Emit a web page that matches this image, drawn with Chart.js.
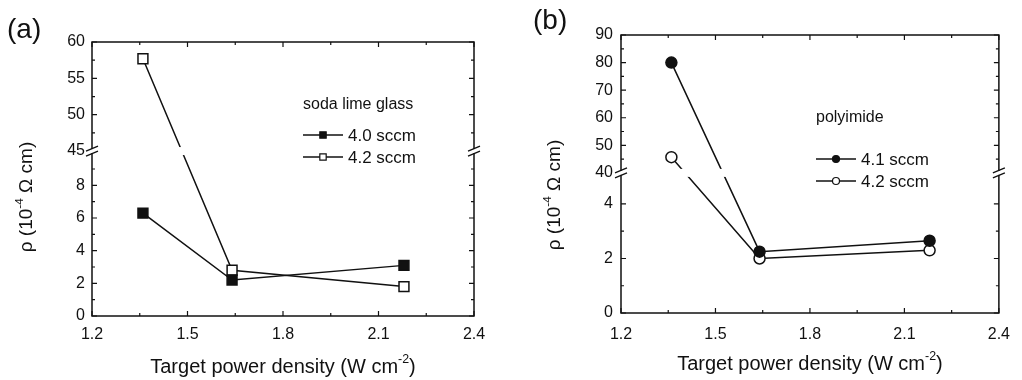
<!DOCTYPE html>
<html>
<head>
<meta charset="utf-8">
<script src="https://cdn.jsdelivr.net/npm/chart.js@4/dist/chart.umd.min.js"></script>
<style>
  html, body { margin: 0; padding: 0; background: #fff; }
  #wrap { position: relative; width: 1022px; height: 380px; }
  .panel { position: absolute; top: 0; width: 511px; height: 380px; }
</style>
</head>
<body>
<div id="wrap">
  <div class="panel" style="left:0"><canvas id="chartA" width="511" height="380"></canvas></div>
  <div class="panel" style="left:511px"><canvas id="chartB" width="511" height="380"></canvas></div>
</div>
<script>
// target power density (W cm^-2), same three runs on both substrates
const powerDensity = [1.36, 1.64, 2.18];

// resistivity (10^-4 ohm cm)
const sodaLime40 = [6.3, 2.2, 3.1];
const sodaLime42 = [57.7, 2.8, 1.8];
const polyimide41 = [80, 2.25, 2.65];
const polyimide42 = [45.7, 2.0, 2.3];

const xTicks = [1.2, 1.5, 1.8, 2.1, 2.4];
const xMinor = [1.35, 1.65, 1.95, 2.25];
const yTicksA = [0, 2, 4, 6, 8, 45, 50, 55, 60];
const yMinorA = [1, 3, 5, 7, 9, 47.5, 52.5, 57.5];
const yTicksB = [0, 2, 4, 40, 50, 60, 70, 80, 90];
const yMinorB = [1, 3, 45, 55, 65, 75, 85];

const FONT = '"Liberation Sans", Arial, sans-serif';

// linear axis with a gap: [0, lowMax] on the lower part, [highMin, highMax] above
class BrokenAxis extends Chart.LinearScale {
  getPixelForValue(v) {
    const o = this.options;
    let f;
    if (v <= o.lowMax) f = v / o.lowMax * o.split;
    else f = o.split + (v - o.highMin) / (o.highMax - o.highMin) * (1 - o.split);
    return this.getPixelForDecimal(f);
  }
}
BrokenAxis.id = 'broken';
BrokenAxis.defaults = Chart.LinearScale.defaults;
Chart.register(BrokenAxis);

function drawRuns(ctx, runs, cx, cy, size, rotate) {
  ctx.save();
  ctx.translate(cx, cy);
  if (rotate) ctx.rotate(-Math.PI / 2);
  let w = 0;
  runs.forEach(r => {
    ctx.font = (r.sup ? size * 0.62 : size) + 'px ' + FONT;
    r.w = ctx.measureText(r.text).width;
    w += r.w;
  });
  let x = -w / 2;
  ctx.textBaseline = 'middle';
  ctx.textAlign = 'left';
  ctx.fillStyle = '#111';
  runs.forEach(r => {
    ctx.font = (r.sup ? size * 0.62 : size) + 'px ' + FONT;
    ctx.fillText(r.text, x, r.sup ? -size * 0.38 : 0);
    x += r.w;
  });
  ctx.restore();
}

// frame, inward ticks, axis breaks, titles and the inset legend
const decor = {
  id: 'decor',
  afterDraw(chart, args, o) {
    const { ctx, chartArea: a, scales: { x, y } } = chart;
    ctx.save();
    const yb = y.getPixelForValue(y.options.lowMax);

    ctx.fillStyle = '#fff';
    ctx.fillRect(a.left + 1, yb - 4, a.right - a.left - 2, 8);

    ctx.strokeStyle = '#111';
    ctx.lineWidth = 1.5;
    ctx.strokeRect(a.left, a.top, a.right - a.left, a.bottom - a.top);

    ctx.lineWidth = 1.2;
    ctx.beginPath();
    const tickX = (v, len) => {
      const p = x.getPixelForValue(v);
      ctx.moveTo(p, a.bottom); ctx.lineTo(p, a.bottom - len);
      ctx.moveTo(p, a.top); ctx.lineTo(p, a.top + len);
    };
    const tickY = (v, len) => {
      const p = y.getPixelForValue(v);
      ctx.moveTo(a.left, p); ctx.lineTo(a.left + len, p);
      ctx.moveTo(a.right, p); ctx.lineTo(a.right - len, p);
    };
    xTicks.forEach(v => tickX(v, 5));
    xMinor.forEach(v => tickX(v, 3));
    o.yMajor.filter(v => v !== y.options.highMin).forEach(v => tickY(v, 5));
    o.yMinor.forEach(v => tickY(v, 3));
    ctx.stroke();

    // double slash on both vertical edges
    [a.left, a.right].forEach(xe => {
      ctx.fillStyle = '#fff';
      ctx.fillRect(xe - 2, yb - 2, 4, 4);
      ctx.beginPath();
      [-2.5, 2.5].forEach(dy => {
        ctx.moveTo(xe - 6, yb + dy + 2.5);
        ctx.lineTo(xe + 6, yb + dy - 2.5);
      });
      ctx.lineWidth = 1.3;
      ctx.stroke();
    });

    // inset legend
    ctx.fillStyle = '#111';
    ctx.textBaseline = 'middle';
    ctx.textAlign = 'left';
    ctx.font = '16px ' + FONT;
    ctx.fillText(o.legendTitle, o.legend.x, o.legend.titleY);
    chart.data.datasets.forEach((ds, i) => {
      const ly = o.legend.y[i];
      ctx.strokeStyle = '#111';
      ctx.lineWidth = 1.5;
      ctx.beginPath();
      ctx.moveTo(o.legend.x, ly);
      ctx.lineTo(o.legend.x + 40, ly);
      ctx.stroke();
      ctx.fillStyle = ds.pointBackgroundColor;
      ctx.strokeStyle = '#111';
      ctx.lineWidth = 1.2;
      Chart.helpers.drawPoint(ctx, { pointStyle: ds.pointStyle, radius: o.legend.r, borderWidth: 1.2, rotation: 0 }, o.legend.x + 20, ly);
      ctx.fillStyle = '#111';
      ctx.font = '17px ' + FONT;
      ctx.fillText(ds.label, o.legend.x + 45, ly + 1);
    });

    // panel letter and axis titles
    ctx.font = '28px ' + FONT;
    ctx.fillText(o.letter.text, o.letter.x, o.letter.y);
    drawRuns(ctx, [{ text: 'Target power density (W cm' }, { text: '-2', sup: true }, { text: ')' }],
      (a.left + a.right) / 2, o.xTitleY, 20, false);
    drawRuns(ctx, [{ text: 'ρ (10' }, { text: '-4', sup: true }, { text: ' Ω cm)' }],
      o.yTitle.x, o.yTitle.y, 19, true);
    ctx.restore();
  }
};

function series(ys) {
  return ys.map((v, i) => ({ x: powerDensity[i], y: v }));
}

function makeChart(id, cfg) {
  const tickFont = { family: FONT, size: 16 };
  return new Chart(document.getElementById(id), {
    type: 'line',
    data: {
      datasets: cfg.sets.map(s => ({
        label: s.label,
        data: series(s.values),
        borderColor: '#111',
        borderWidth: 1.5,
        pointStyle: s.style,
        pointRadius: s.style === 'rect' ? 7 : 5.5,
        pointBorderWidth: 1.5,
        pointBorderColor: '#111',
        pointBackgroundColor: s.fill,
        tension: 0
      }))
    },
    options: {
      responsive: false,
      animation: false,
      events: [],
      layout: { padding: cfg.padding },
      plugins: {
        legend: { display: false },
        tooltip: { enabled: false },
        decor: cfg.decor
      },
      scales: {
        x: {
          type: 'linear', min: 1.2, max: 2.4,
          afterBuildTicks: s => { s.ticks = xTicks.map(v => ({ value: v })); },
          afterFit: s => { s.height = cfg.xHeight; },
          grid: { display: false, drawTicks: false },
          border: { display: false },
          ticks: { font: tickFont, color: '#111', padding: cfg.xPad, maxRotation: 0, autoSkip: false,
                   callback: v => v.toFixed(1) }
        },
        y: Object.assign({
          type: 'broken',
          afterBuildTicks: s => { s.ticks = cfg.yTicks.map(v => ({ value: v })); },
          afterFit: s => { s.width = cfg.yWidth; },
          grid: { display: false, drawTicks: false },
          border: { display: false },
          ticks: { font: tickFont, color: '#111', padding: cfg.yPad, autoSkip: false,
                   callback: v => String(v) }
        }, cfg.brk)
      }
    },
    plugins: [decor]
  });
}

makeChart('chartA', {
  sets: [
    { label: '4.0 sccm', values: sodaLime40, style: 'rect', fill: '#111' },
    { label: '4.2 sccm', values: sodaLime42, style: 'rect', fill: '#fff' }
  ],
  padding: { left: 0, right: 37, top: 42, bottom: 0 },
  xHeight: 64, yWidth: 92, xPad: 9, yPad: 7,
  yTicks: yTicksA,
  brk: { min: 0, max: 60, lowMax: 10.1, highMin: 45, highMax: 60, split: 0.602 },
  decor: {
    yMajor: yTicksA, yMinor: yMinorA,
    legendTitle: 'soda lime glass',
    legend: { x: 303, titleY: 105, y: [135, 157], r: 4.5 },
    letter: { text: '(a)', x: 7, y: 30 },
    xTitleY: 367,
    yTitle: { x: 27, y: 197 }
  }
});

makeChart('chartB', {
  sets: [
    { label: '4.1 sccm', values: polyimide41, style: 'circle', fill: '#111' },
    { label: '4.2 sccm', values: polyimide42, style: 'circle', fill: '#fff' }
  ],
  padding: { left: 0, right: 15, top: 35, bottom: 0 },
  xHeight: 67, yWidth: 110, xPad: 12, yPad: 8,
  yTicks: yTicksB,
  brk: { min: 0, max: 90, lowMax: 5.14, highMin: 40, highMax: 90, split: 0.504 },
  decor: {
    yMajor: yTicksB, yMinor: yMinorB,
    legendTitle: 'polyimide',
    legend: { x: 305, titleY: 118, y: [159, 181], r: 3.5 },
    letter: { text: '(b)', x: 22, y: 21 },
    xTitleY: 364,
    yTitle: { x: 44, y: 195 }
  }
});
</script>
</body>
</html>
